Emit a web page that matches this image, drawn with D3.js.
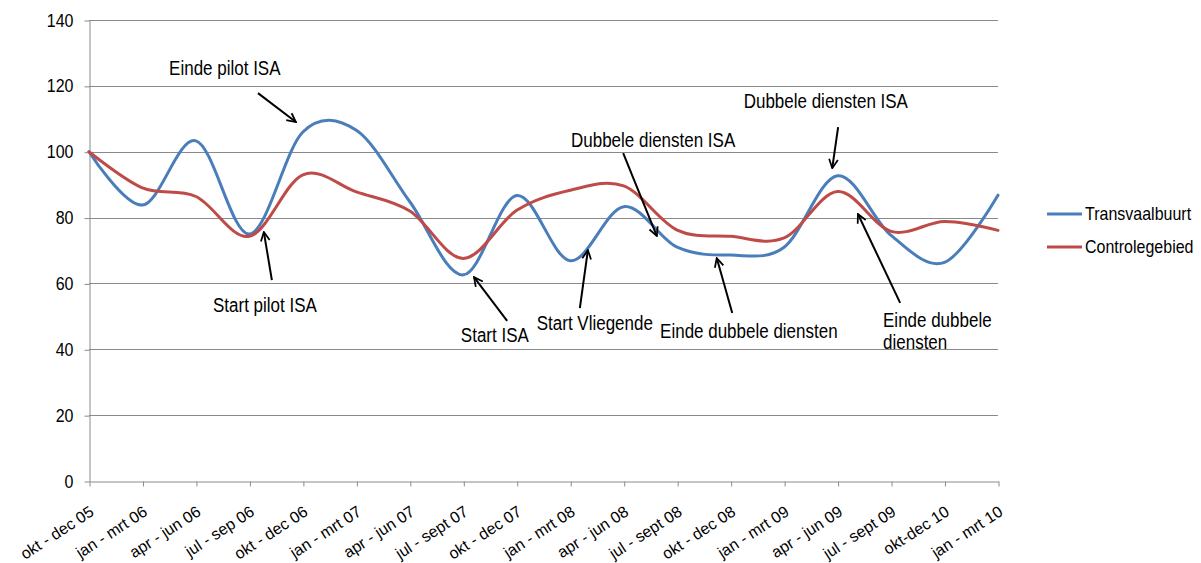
<!DOCTYPE html>
<html><head><meta charset="utf-8">
<script src="https://cdn.jsdelivr.net/npm/d3@7"></script>
<style>
html,body{margin:0;padding:0;background:#fff;}
svg text{font-family:"Liberation Sans",Arial,sans-serif;fill:#000;}
</style></head>
<body>
<svg id="chart" width="1201" height="563"></svg>
<script>
const categories = ["okt - dec 05","jan - mrt 06","apr - jun 06","jul - sep 06","okt - dec 06","jan - mrt 07","apr - jun 07","jul - sept 07","okt - dec 07","jan - mrt 08","apr - jun 08","jul - sept 08","okt - dec 08","jan - mrt 09","apr - jun 09","jul - sept 09","okt-dec 10","jan - mrt 10"];
const transvaalbuurt = [100, 83.8, 103.3, 75, 106, 106.5, 84.8, 62.6, 86.7, 66.9, 83.3, 71, 68.6, 71, 92.7, 74.6, 66.4, 86.8];
const controlegebied = [100, 89, 86.4, 74.3, 93, 87.8, 82, 67.6, 82.2, 88.3, 89.6, 76.2, 74.3, 73.8, 87.9, 75.8, 78.8, 76.1];
const yTicks = [0, 20, 40, 60, 80, 100, 120, 140];
const seriesNames = ["Transvaalbuurt", "Controlegebied"];
// annotations: text position and arrow tail/tip in (category index, value)
const annotations = [
  {lines:["Einde pilot ISA"], tx:2.54, tv:123.3, anchor:"middle", from:[3.16,117.8], to:[3.87,109.0]},
  {lines:["Start pilot ISA"], tx:3.29, tv:51.3, anchor:"middle", from:[3.42,61.0], to:[3.27,75.6]},
  {lines:["Start ISA"], tx:7.59, tv:42.2, anchor:"middle", from:[7.82,48.6], to:[7.2,61.9]},
  {lines:["Start Vliegende"], tx:9.46, tv:45.9, anchor:"middle", from:[9.18,52.5], to:[9.33,70.1]},
  {lines:["Einde dubbele  diensten"], tx:12.34, tv:43.4, anchor:"middle", from:[12.03,51.0], to:[11.74,67.7]},
  {lines:["Einde dubbele","diensten"], tx:14.85, tv:46.8, anchor:"start", from:[15.17,54.1], to:[14.38,81.1]},
  {lines:["Dubbele diensten ISA"], tx:10.55, tv:101.4, anchor:"middle", from:[9.99,99.6], to:[10.62,74.4]},
  {lines:["Dubbele diensten ISA"], tx:13.78, tv:113.3, anchor:"middle", from:[14.01,107.5], to:[13.9,95.0]}
];

const colors = ["#4A7EBB", "#BE4B48"];
const svg = d3.select("#chart");
const pLeft = 89, pRight = 998, pTop = 20, pBottom = 481;
const x = d3.scalePoint().domain(categories).range([pLeft, pRight]).padding(0);
const xi = d3.scaleLinear().domain([0, categories.length - 1]).range([pLeft, pRight]);
const y = d3.scaleLinear().domain([0, 140]).range([pBottom, pTop]);
const SY = 1.15;

// gridlines
svg.append("g").selectAll("line").data(yTicks.filter(d => d > 0)).join("line")
  .attr("x1", pLeft).attr("x2", pRight)
  .attr("y1", d => Math.round(y(d)) + 0.5).attr("y2", d => Math.round(y(d)) + 0.5)
  .attr("stroke", "#8a8a8a").attr("stroke-width", 1);

// y axis
const yAxis = svg.append("g").attr("transform", `translate(${pLeft + 0.5},0.5)`)
  .call(d3.axisLeft(y).tickValues(yTicks).tickSize(5).tickSizeOuter(0).tickFormat(d3.format("d")));
yAxis.select(".domain").attr("stroke", "#8a8a8a");
yAxis.selectAll(".tick line").attr("stroke", "#8a8a8a");
yAxis.selectAll(".tick text").attr("font-size", 16).attr("x", null).attr("dy", null)
  .attr("transform", `translate(-16,5.5) scale(1,${SY})`)
  .style("font-family", '"Liberation Sans",Arial,sans-serif');

// x axis
const xAxis = svg.append("g").attr("transform", `translate(0.5,${pBottom + 0.5})`)
  .call(d3.axisBottom(x).tickSize(5).tickSizeOuter(0));
xAxis.select(".domain").attr("stroke", "#8a8a8a");
xAxis.selectAll(".tick line").attr("stroke", "#8a8a8a");
xAxis.selectAll(".tick text").attr("font-size", 16).attr("y", 0).attr("dy", null)
  .attr("text-anchor", "end")
  .attr("transform", "translate(5,33) rotate(-33)")
  .style("font-family", '"Liberation Sans",Arial,sans-serif');

// lines
const line = d3.line().x((d, i) => x(categories[i])).y(d => y(d)).curve(d3.curveCatmullRom.alpha(0));
[transvaalbuurt, controlegebied].forEach((s, k) => {
  svg.append("path").datum(s).attr("d", line).attr("fill", "none")
    .attr("stroke", colors[k]).attr("stroke-width", 3).attr("stroke-linejoin", "round").attr("stroke-linecap", "round");
});

// arrow marker
svg.append("defs").append("marker").attr("id", "arr").attr("viewBox", "0 0 10 10")
  .attr("refX", 9).attr("refY", 5).attr("markerWidth", 5.5).attr("markerHeight", 5.5)
  .attr("orient", "auto").attr("markerUnits", "strokeWidth")
  .append("path").attr("d", "M1,1 L9,5 L1,9").attr("fill", "none").attr("stroke", "#000").attr("stroke-width", 1.6);

const ann = svg.append("g");
annotations.forEach(a => {
  ann.append("line").attr("x1", xi(a.from[0])).attr("y1", y(a.from[1]))
    .attr("x2", xi(a.to[0])).attr("y2", y(a.to[1]))
    .attr("stroke", "#000").attr("stroke-width", 2).attr("marker-end", "url(#arr)");
  const t = ann.append("text").attr("text-anchor", a.anchor).attr("font-size", 17)
    .attr("transform", `translate(${xi(a.tx)},${y(a.tv)}) scale(1,${SY})`);
  a.lines.forEach((s, j) => {
    t.append("tspan").attr("x", 0).attr("y", j * 22 / SY).text(s);
  });
});

// legend
const lg = svg.append("g");
seriesNames.forEach((n, k) => {
  const ly = 214 + k * 33;
  lg.append("line").attr("x1", 1047).attr("x2", 1082).attr("y1", ly).attr("y2", ly)
    .attr("stroke", colors[k]).attr("stroke-width", 3);
  lg.append("text").attr("font-size", 16).attr("transform", `translate(1085,${ly + 6}) scale(1,${SY})`).text(n);
});
</script>
</body></html>
